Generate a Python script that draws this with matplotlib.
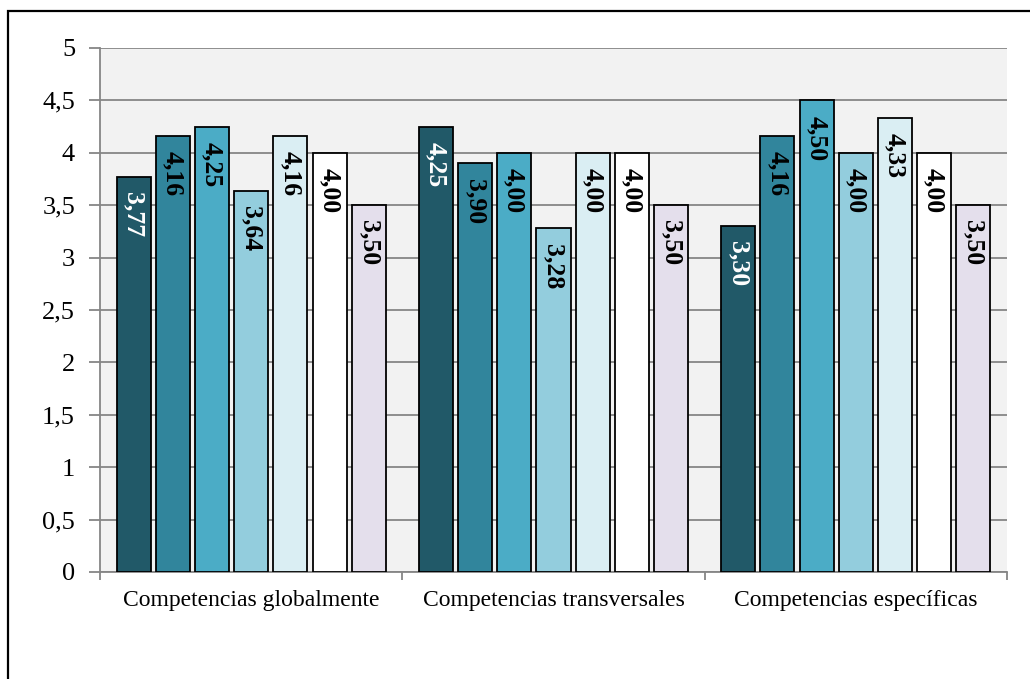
import matplotlib.pyplot as plt
import numpy as np
from matplotlib.patches import Rectangle

categories = ['Competencias globalmente', 'Competencias transversales', 'Competencias específicas']
series = [
    [3.77, 4.25, 3.30],
    [4.16, 3.90, 4.16],
    [4.25, 4.00, 4.50],
    [3.64, 3.28, 4.00],
    [4.16, 4.00, 4.33],
    [4.00, 4.00, 4.00],
    [3.50, 3.50, 3.50],
]
colors = ['#215968', '#31859c', '#4bacc6', '#93cddd', '#daeef3', '#ffffff', '#e4dfec']
label_colors = ['white'] + ['black'] * 6
yticks = [0, 0.5, 1, 1.5, 2, 2.5, 3, 3.5, 4, 4.5, 5]

plt.rcParams['font.family'] = ['Liberation Serif', 'DejaVu Serif']

W, H = 1030, 679
fig = plt.figure(figsize=(W / 100, H / 100), dpi=100)
ax = fig.add_axes([100 / W, 1 - 572 / H, (1007 - 100) / W, (572 - 48) / H])
ax.set_facecolor('#f2f2f2')

# outer chart border (only top/left visible, rest cropped)
fig.patches.append(Rectangle((8 / W, -0.1), 1.2, 1 - 11 / H + 0.1, transform=fig.transFigure,
                             fill=False, edgecolor='black', linewidth=1.6, zorder=0))

step = 0.1297
width = 0.1125
n = len(series)
x = np.arange(len(categories))
for i, vals in enumerate(series):
    pos = x + (i - (n - 1) / 2) * step
    ax.bar(pos, vals, width=width, color=colors[i], edgecolor='black', linewidth=1.3, zorder=3)
    for xp, v in zip(pos, vals):
        ax.annotate('{:.2f}'.format(v).replace('.', ','), (xp, v), xytext=(0, -11),
                    textcoords='offset points', rotation=270, ha='center', va='top',
                    fontsize=18.5, fontweight='bold', color=label_colors[i], zorder=4)

ax.set_xlim(-0.5, len(categories) - 0.5)
ax.set_ylim(0, 5)
ax.set_yticks(yticks)
ax.set_yticklabels([('%g' % t).replace('.', ',') for t in yticks], fontsize=19)
ax.yaxis.grid(True, color='#868686', linewidth=1.3, zorder=0)
ax.set_axisbelow(True)

ax.set_xticks(x)
ax.set_xticklabels(categories, fontsize=17)
ax.tick_params(axis='x', length=0, pad=13)
ax.set_xticks(np.arange(len(categories) + 1) - 0.5, minor=True)
ax.tick_params(axis='x', which='minor', length=6, color='#868686', width=1.3)
ax.tick_params(axis='y', length=8, color='#868686', width=1.3, pad=10)

for side in ['top', 'right']:
    ax.spines[side].set_visible(False)
ax.spines['left'].set_color('#868686')
ax.spines['bottom'].set_color('#868686')
ax.spines['left'].set_linewidth(1.3)
ax.spines['bottom'].set_linewidth(1.3)

fig.savefig('out.png', dpi=100)
